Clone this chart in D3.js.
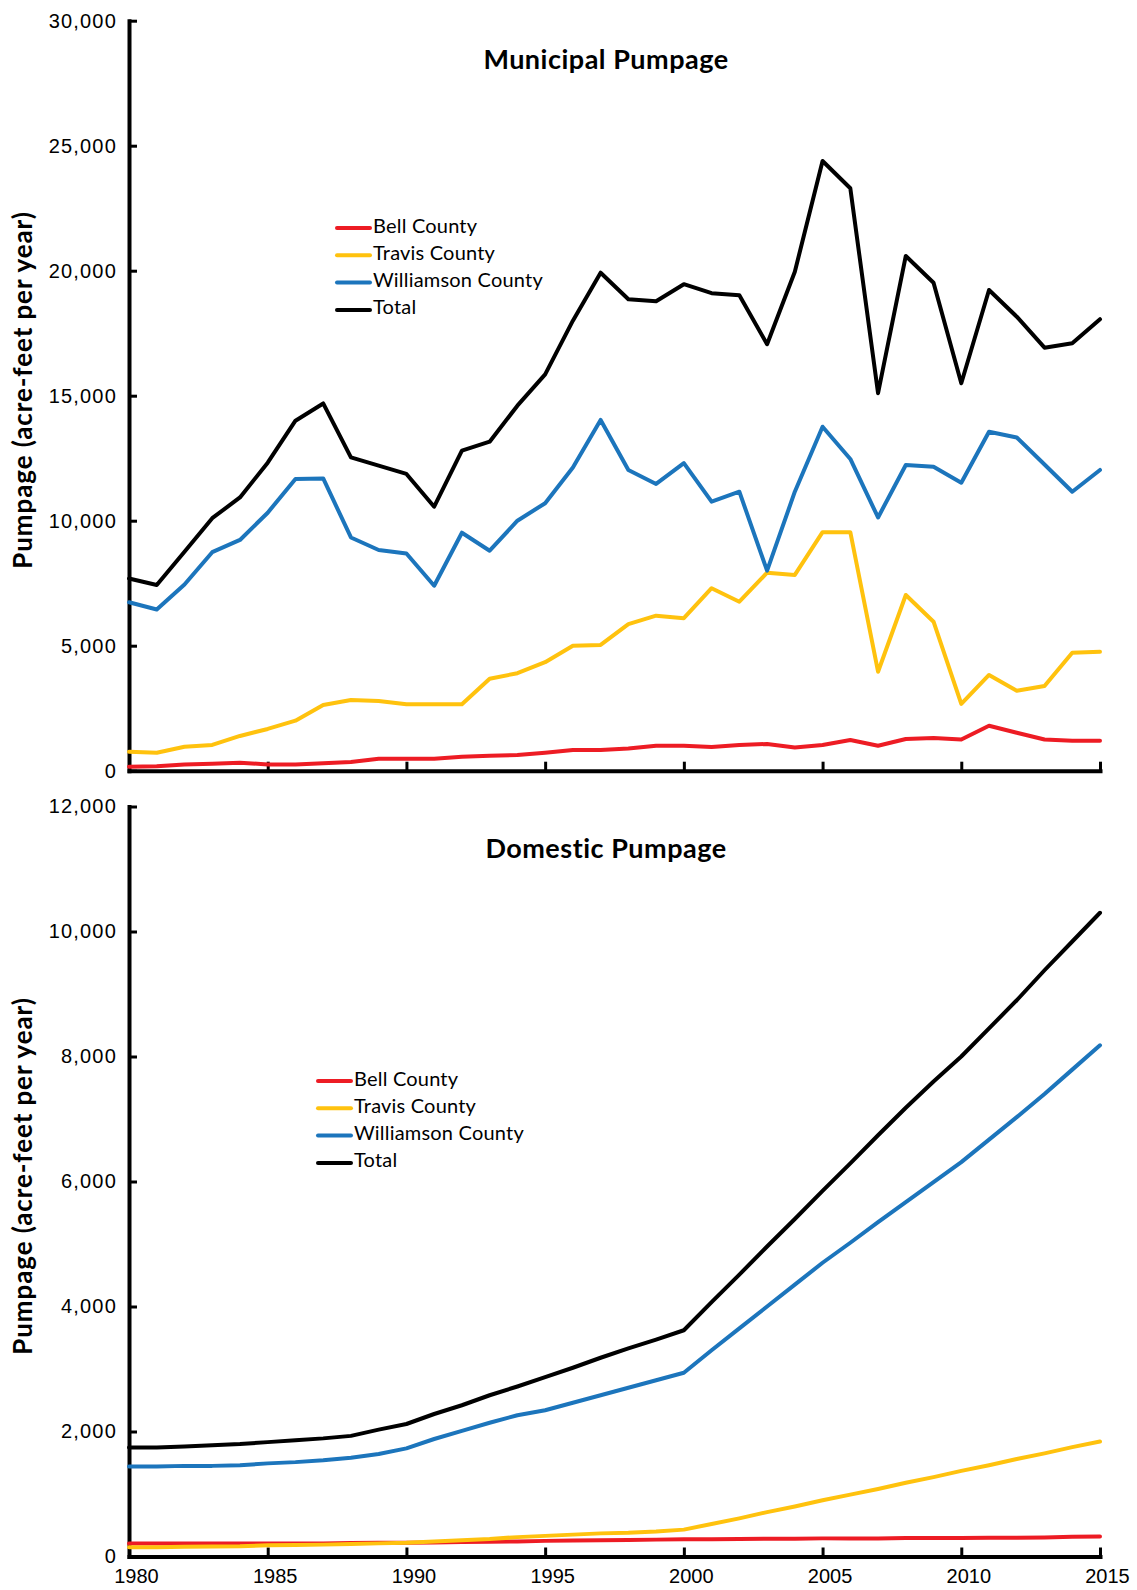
<!DOCTYPE html>
<html>
<head>
<meta charset="utf-8">
<script src="https://cdn.jsdelivr.net/npm/d3@7"></script>
<style>
  body { margin: 0; background: #fff; }
  svg { display: block; font-family: Lato, "Open Sans", sans-serif; }
</style>
</head>
<body>
<svg id="chart" width="1137" height="1590"></svg>
<script>
const years = [1980,1981,1982,1983,1984,1985,1986,1987,1988,1989,1990,1991,1992,1993,1994,1995,1996,1997,
  1998,1999,2000,2001,2002,2003,2004,2005,2006,2007,2008,2009,2010,2011,2012,2013,2014,2015];
const xTicks = [1980,1985,1990,1995,2000,2005,2010,2015];
const seriesNames = ["Bell County","Travis County","Williamson County","Total"];
const seriesColors = ["#ed1c24","#ffc20e","#1c75bc","#000000"];

// municipal pumpage (acre-feet per year)
const munBell = [160,180,250,280,320,250,250,300,350,480,480,480,560,600,630,720,830,830,890,1000,1000,950,
  1030,1070,930,1030,1230,1000,1270,1310,1250,1800,1520,1250,1200,1200];
const munTravis = [760,720,960,1030,1390,1670,2000,2630,2830,2790,2660,2660,2660,3680,3900,4340,5000,5030,
  5860,6200,6100,7300,6760,7920,7830,9540,9540,3960,7030,5960,2670,3830,3200,3390,4720,4760];
const munWilliamson = [6740,6450,7450,8740,9230,10320,11670,11690,9330,8830,8690,7400,9520,8800,10000,10700,
  12130,14030,12030,11470,12300,10760,11160,8000,11160,13760,12470,10130,12230,12160,11520,13560,13330,12250,11160,12030];
const munTotal = [7690,7430,8760,10100,10930,12320,14000,14690,12530,12200,11870,10560,12800,13160,14600,15850,
  18000,19920,18860,18780,19460,19100,19020,17060,19960,24390,23300,15100,20590,19520,15500,19230,18160,16920,17100,18060];
const munTicks = [0,5000,10000,15000,20000,25000,30000];

// domestic pumpage (acre-feet per year)
const domBell = [210,210,210,210,210,210,210,210,215,220,220,225,230,235,240,250,255,260,265,270,275,275,280,
  285,285,290,290,290,295,295,295,300,300,305,315,320];
const domTravis = [150,150,155,160,165,180,185,190,200,210,220,240,260,280,310,330,350,370,380,400,430,520,610,
  710,800,900,990,1080,1180,1270,1370,1460,1560,1650,1750,1840];
const domWilliamson = [1440,1440,1450,1450,1460,1490,1510,1540,1580,1640,1730,1880,2010,2140,2260,2340,2460,
  2580,2700,2820,2940,3300,3650,4000,4350,4700,5020,5350,5670,5990,6310,6670,7030,7400,7790,8180];
const domTotal = [1745,1745,1760,1780,1800,1830,1860,1890,1930,2030,2120,2280,2420,2580,2720,2870,3020,3180,
  3330,3470,3620,4070,4510,4960,5400,5850,6290,6740,7180,7600,8000,8450,8900,9380,9840,10300];
const domTicks = [0,2000,4000,6000,8000,10000,12000];

const svg = d3.select("#chart");

const x = d3.scaleLinear().domain([1980, 2015]).range([129, 1100]);

function drawPanel(opts) {
  const y = d3.scaleLinear().domain([0, opts.max]).range([opts.bottom, opts.top]);
  const g = svg.append("g");

  // y axis, ticks pointing into the plot
  const yAxis = g.append("g")
    .attr("transform", `translate(${x(1980)},0)`)
    .call(d3.axisLeft(y).tickValues(opts.ticks).tickSizeInner(-8).tickSizeOuter(0)
      .tickPadding(12).tickFormat(d3.format(",")));

  // x axis, ticks pointing up
  const xAxis = g.append("g")
    .attr("transform", `translate(0,${opts.bottom})`)
    .call(d3.axisBottom(x).tickValues(xTicks).tickSizeInner(-9).tickSizeOuter(0)
      .tickPadding(14).tickFormat(opts.showYears ? d3.format("d") : ""));

  [yAxis, xAxis].forEach(a => {
    a.select(".domain").attr("stroke", "#000").attr("stroke-width", 4).attr("stroke-linecap", "square");
    a.selectAll(".tick line").attr("stroke", "#000").attr("stroke-width", 3);
    a.selectAll(".tick text").attr("fill", "#000").attr("font-size", "20px");
  });
  yAxis.selectAll(".tick text").attr("letter-spacing", "1.2px");
  xAxis.selectAll(".tick text").attr("dx", 7).attr("dy", "0.6em");

  // y axis title
  g.append("text")
    .attr("transform", `translate(32,${opts.labelY}) rotate(-90)`)
    .attr("text-anchor", "middle")
    .attr("font-size", "26px")
    .attr("font-weight", "bold")
    .attr("letter-spacing", "0.9px")
    .text("Pumpage (acre-feet per year)");

  // chart title
  g.append("text")
    .attr("x", 606)
    .attr("y", opts.titleY)
    .attr("text-anchor", "middle")
    .attr("font-size", "27px")
    .attr("font-weight", "bold")
    .attr("letter-spacing", "0.5px")
    .text(opts.title);

  const line = d3.line()
    .x((d, i) => x(years[i]))
    .y(d => y(d));

  opts.series.forEach((s, i) => {
    g.append("path")
      .datum(s)
      .attr("fill", "none")
      .attr("stroke", seriesColors[i])
      .attr("stroke-width", 4)
      .attr("stroke-linejoin", "round")
      .attr("stroke-linecap", "round")
      .attr("d", line);
  });

  // legend
  const legend = g.append("g").attr("transform", `translate(${opts.legendX},${opts.legendY})`);
  seriesNames.forEach((name, i) => {
    const row = legend.append("g").attr("transform", `translate(0,${i * 27.3})`);
    row.append("line")
      .attr("x1", 0).attr("x2", 33)
      .attr("stroke", seriesColors[i])
      .attr("stroke-width", 4)
      .attr("stroke-linecap", "round");
    row.append("text")
      .attr("x", 36)
      .attr("y", 4.5)
      .attr("font-size", "20px")
      .attr("letter-spacing", "0.2px")
      .text(name);
  });
}

drawPanel({
  title: "Municipal Pumpage", titleY: 69,
  max: 30000, ticks: munTicks, top: 20.7, bottom: 770.7,
  series: [munBell, munTravis, munWilliamson, munTotal],
  labelY: 390, legendX: 337, legendY: 228, showYears: false
});

drawPanel({
  title: "Domestic Pumpage", titleY: 858,
  max: 12000, ticks: domTicks, top: 806.5, bottom: 1556.5,
  series: [domBell, domTravis, domWilliamson, domTotal],
  labelY: 1176, legendX: 318, legendY: 1081, showYears: true
});
</script>
</body>
</html>
